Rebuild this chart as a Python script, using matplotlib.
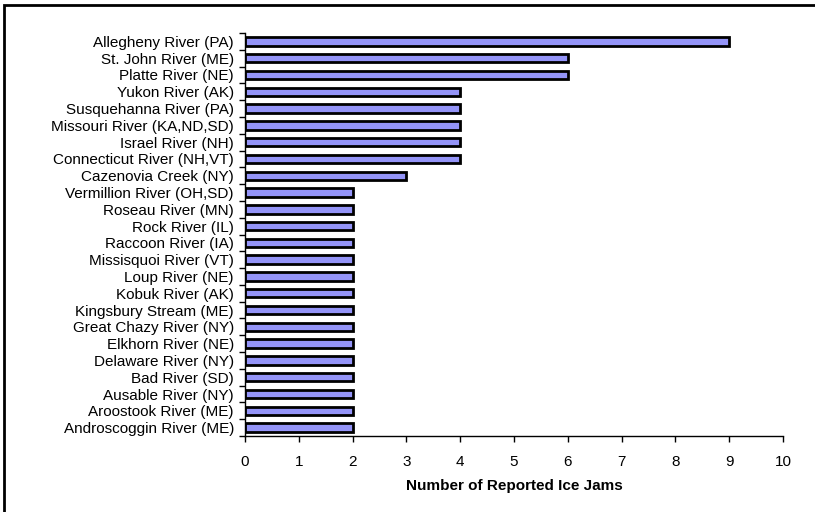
import matplotlib
matplotlib.use('Agg')
import matplotlib.pyplot as plt
import numpy as np

plt.rcParams['font.family'] = ['Liberation Sans', 'DejaVu Sans']

rivers = ['Allegheny River (PA)', 'St. John River (ME)', 'Platte River (NE)',
          'Yukon River (AK)', 'Susquehanna River (PA)', 'Missouri River (KA,ND,SD)',
          'Israel River (NH)', 'Connecticut River (NH,VT)', 'Cazenovia Creek (NY)',
          'Vermillion River (OH,SD)', 'Roseau River (MN)', 'Rock River (IL)',
          'Raccoon River (IA)', 'Missisquoi River (VT)', 'Loup River (NE)',
          'Kobuk River (AK)', 'Kingsbury Stream (ME)', 'Great Chazy River (NY)',
          'Elkhorn River (NE)', 'Delaware River (NY)', 'Bad River (SD)',
          'Ausable River (NY)', 'Aroostook River (ME)', 'Androscoggin River (ME)']
jams = [9, 6, 6, 4, 4, 4, 4, 4, 3, 2, 2, 2, 2, 2, 2, 2, 2, 2, 2, 2, 2, 2, 2, 2]

fig = plt.figure(figsize=(8.15, 5.12), dpi=100)
ax = fig.add_axes([245/815, 1-436/512, (783-245)/815, (436-33)/512])

n = len(rivers)
y = np.arange(n)[::-1]
ax.barh(y, jams, height=0.5, color='#9494f8', edgecolor='black', linewidth=2)

ax.set_xlim(0, 10)
ax.set_ylim(-0.5, n-0.5)
ax.set_xticks(range(0, 11))
ax.set_yticks(y)
ax.set_yticklabels(rivers, fontsize=11)
ax.set_yticks(np.arange(-0.5, n), minor=True)
ax.tick_params(axis='y', which='major', length=0, pad=8)
ax.tick_params(axis='y', which='minor', length=4, width=1, direction='out')
ax.tick_params(axis='x', length=4, width=1, labelsize=11, pad=10)
for s in ['top', 'right']:
    ax.spines[s].set_visible(False)
ax.spines['left'].set_linewidth(1)
ax.spines['bottom'].set_linewidth(1)
ax.set_xlabel('Number of Reported Ice Jams', fontsize=11, fontweight='bold', labelpad=7)

# figure frame, only top and left edges show
fig.add_artist(plt.Rectangle((4/815, -0.1), 1.2, 1-5/512+0.1, transform=fig.transFigure,
                             fill=False, edgecolor='black', linewidth=2))

fig.savefig('out.png', dpi=100, facecolor='white')
